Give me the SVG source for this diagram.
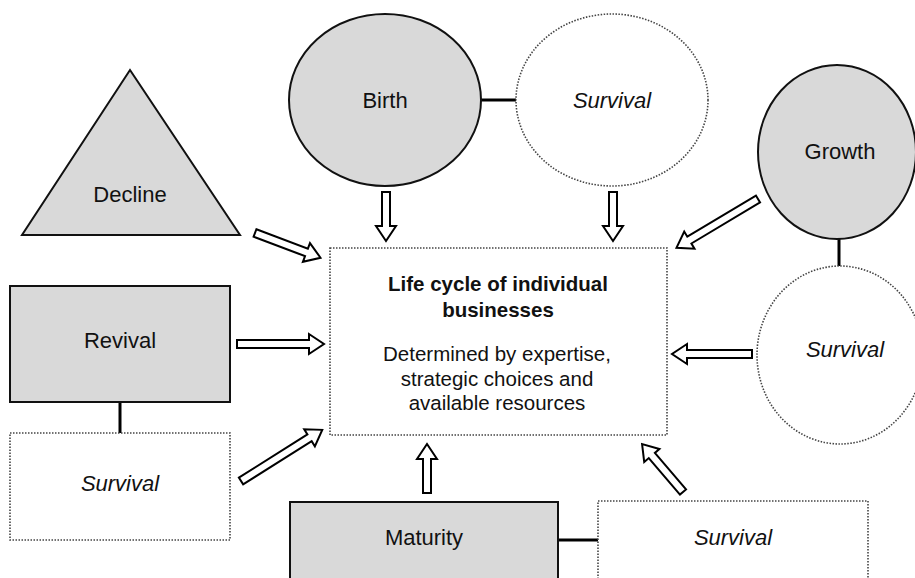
<svg xmlns="http://www.w3.org/2000/svg" width="915" height="578" viewBox="0 0 915 578">
<style>
.solid{fill:#d9d9d9;stroke:#111;stroke-width:2}
.dot{fill:#fff;stroke:#444;stroke-width:1.6;stroke-dasharray:1.5 1.5}
.lnk{stroke:#000;stroke-width:3;fill:none}
.arr{fill:#fff;stroke:#000;stroke-width:2;stroke-linejoin:miter}
text{font-family:"Liberation Sans",Arial,sans-serif;font-size:22px;fill:#111;text-anchor:middle}
.it{font-style:italic}
.b{font-weight:bold;font-size:20.5px}
.n{font-size:20.5px}
</style>
<rect width="915" height="578" fill="#fff"/>
<g id="connectors">
<line class="lnk" x1="481" y1="100" x2="516" y2="100"/>
<line class="lnk" x1="839" y1="239" x2="839" y2="266"/>
<line class="lnk" x1="120" y1="402" x2="120" y2="433"/>
<line class="lnk" x1="558" y1="540" x2="598" y2="540"/>
<polygon class="arr" transform="translate(386,192) rotate(90)" points="0,-4 34,-4 34,-10 49,0 34,10 34,4 0,4"/>
<polygon class="arr" transform="translate(613,192) rotate(90)" points="0,-4 34,-4 34,-10 49,0 34,10 34,4 0,4"/>
<polygon class="arr" transform="translate(255,233) rotate(20.7)" points="0,-4 55,-4 55,-10 70,0 55,10 55,4 0,4"/>
<polygon class="arr" transform="translate(758,199) rotate(149.1)" points="0,-4 80,-4 80,-10 95,0 80,10 80,4 0,4"/>
<polygon class="arr" transform="translate(237,344) rotate(0)" points="0,-4 72,-4 72,-10 87,0 72,10 72,4 0,4"/>
<polygon class="arr" transform="translate(752,354) rotate(180)" points="0,-4 65,-4 65,-10 80,0 65,10 65,4 0,4"/>
<polygon class="arr" transform="translate(241,481) rotate(-32.2)" points="0,-4 81,-4 81,-10 96,0 81,10 81,4 0,4"/>
<polygon class="arr" transform="translate(427,493) rotate(-90)" points="0,-4 34,-4 34,-10 49,0 34,10 34,4 0,4"/>
<polygon class="arr" transform="translate(683,492) rotate(-130.5)" points="0,-4 48,-4 48,-10 63,0 48,10 48,4 0,4"/>
</g>
<g id="birth"><ellipse class="solid" cx="385" cy="100" rx="96" ry="86"/><text x="385" y="108">Birth</text></g>
<g id="survival-top"><ellipse class="dot" cx="612" cy="100" rx="96" ry="86"/><text class="it" x="612" y="108">Survival</text></g>
<g id="growth"><ellipse class="solid" cx="837" cy="152" rx="79" ry="87"/><text x="840" y="159">Growth</text></g>
<g id="survival-right"><ellipse class="dot" cx="840" cy="355" rx="83" ry="89"/><text class="it" x="845" y="357">Survival</text></g>
<g id="decline"><polygon class="solid" points="130,70 240,235 22,235"/><text x="130" y="202">Decline</text></g>
<g id="revival"><rect class="solid" x="10" y="286" width="220" height="116"/><text x="120" y="348">Revival</text></g>
<g id="survival-left"><rect class="dot" x="10" y="433" width="220" height="107"/><text class="it" x="120" y="491">Survival</text></g>
<g id="center"><rect class="dot" x="330" y="248" width="337" height="187"/>
<text class="b" x="498" y="291">Life cycle of individual</text>
<text class="b" x="498" y="317">businesses</text>
<text class="n" x="497" y="361">Determined by expertise,</text>
<text class="n" x="497" y="386">strategic choices and</text>
<text class="n" x="497" y="410">available resources</text></g>
<g id="maturity"><rect class="solid" x="290" y="502" width="268" height="90"/><text x="424" y="545">Maturity</text></g>
<g id="survival-bottom"><rect class="dot" x="598" y="501" width="270" height="90"/><text class="it" x="733" y="545">Survival</text></g>
</svg>
